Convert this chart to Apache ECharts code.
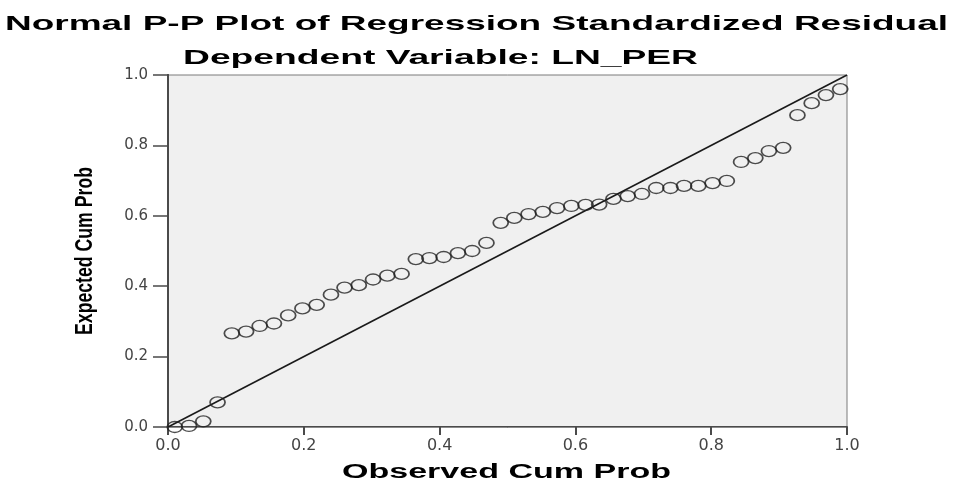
<!DOCTYPE html>
<html>
<head>
<meta charset="utf-8">
<script src="https://cdn.jsdelivr.net/npm/echarts@6/dist/echarts.min.js"></script>
<style>
html,body{margin:0;padding:0;background:#fff;}
#chart{width:953px;height:482px;}
</style>
</head>
<body>
<div id="chart"></div>
<script>
// ---- data ----
const titleLine1 = 'Normal P-P Plot of Regression Standardized Residual';
const titleLine2 = 'Dependent Variable: LN_PER';
const xAxisName = 'Observed Cum Prob';
const yAxisName = 'Expected Cum Prob';
const tickLabels = ['0.0', '0.2', '0.4', '0.6', '0.8', '1.0'];

const observedCumProb = [
  0.010, 0.031, 0.052, 0.073, 0.094, 0.115, 0.135, 0.156, 0.177, 0.198,
  0.219, 0.240, 0.260, 0.281, 0.302, 0.323, 0.344, 0.365, 0.385, 0.406,
  0.427, 0.448, 0.469, 0.490, 0.510, 0.531, 0.552, 0.573, 0.594, 0.615,
  0.635, 0.656, 0.677, 0.698, 0.719, 0.740, 0.760, 0.781, 0.802, 0.823,
  0.844, 0.865, 0.885, 0.906, 0.927, 0.948, 0.969, 0.990
];
const expectedCumProb = [
  0.000, 0.003, 0.016, 0.070, 0.266, 0.271, 0.287, 0.294, 0.317, 0.337,
  0.347, 0.376, 0.396, 0.403, 0.419, 0.430, 0.435, 0.477, 0.480, 0.483,
  0.494, 0.500, 0.523, 0.580, 0.594, 0.605, 0.611, 0.622, 0.628, 0.631,
  0.632, 0.648, 0.656, 0.662, 0.679, 0.679, 0.685, 0.685, 0.693, 0.699,
  0.753, 0.764, 0.784, 0.793, 0.886, 0.920, 0.943, 0.960
];
const referenceLineX = [0, 1];
const referenceLineY = [0, 1];

// ---- helpers ----
function textScale(text, font, targetWidth) {
  const ctx = document.createElement('canvas').getContext('2d');
  ctx.font = font;
  return targetWidth / ctx.measureText(text).width;
}

const points = observedCumProb.map((x, i) => [x, expectedCumProb[i]]);
const refLine = referenceLineX.map((x, i) => [x, referenceLineY[i]]);

const FAM = '"Liberation Sans", Arial, sans-serif';
const tFont = 'bold 21px ' + FAM;
const nFont = 'bold 20px ' + FAM;
const yFont = 'bold 24px ' + FAM;

const chart = echarts.init(document.getElementById('chart'), null, {renderer: 'canvas'});

const labelFmt = v => tickLabels[Math.round(v * 5)];

chart.setOption({
  animation: false,
  backgroundColor: '#ffffff',
  grid: {
    left: 168, top: 75, width: 679, height: 352,
    show: true, backgroundColor: '#F0F0F0',
    borderColor: '#7a7a7a', borderWidth: 1
  },
  xAxis: [{
    type: 'value', min: 0, max: 1, interval: 0.2,
    axisLine: {show: true, onZero: false, lineStyle: {color: '#4a4a4a', width: 2}},
    axisTick: {show: true, length: 8, lineStyle: {color: '#4a4a4a', width: 2}},
    axisLabel: {margin: 11, formatter: labelFmt, color: '#444',
      fontFamily: '"DejaVu Sans", sans-serif', fontSize: 16},
    splitLine: {show: false}
  }, {
    type: 'value', position: 'top', min: 0, max: 1,
    axisLine: {show: true, lineStyle: {color: '#8a8a8a', width: 1}},
    axisTick: {show: false}, axisLabel: {show: false}, splitLine: {show: false}
  }],
  yAxis: [{
    type: 'value', min: 0, max: 1, interval: 0.2,
    axisLine: {show: true, onZero: false, lineStyle: {color: '#4a4a4a', width: 2}},
    axisTick: {show: true, length: 15, lineStyle: {color: '#4a4a4a', width: 1.5}},
    axisLabel: {margin: 20, formatter: labelFmt, color: '#444',
      fontFamily: '"DejaVu Sans", sans-serif', fontSize: 15},
    splitLine: {show: false}
  }, {
    type: 'value', position: 'right', min: 0, max: 1,
    axisLine: {show: true, lineStyle: {color: '#4a4a4a', width: 2}},
    axisTick: {show: false}, axisLabel: {show: false}, splitLine: {show: false}
  }],
  series: [{
    type: 'line',
    data: refLine,
    symbol: 'none',
    lineStyle: {color: '#1a1a1a', width: 1.6},
    silent: true,
    z: 2
  }, {
    type: 'scatter',
    data: points,
    symbol: 'circle',
    symbolSize: [15, 11],
    itemStyle: {color: 'rgba(0,0,0,0)', borderColor: '#202020', borderWidth: 1.5},
    clip: false,
    z: 3
  }],
  graphic: [{
    type: 'text', x: 476.5, y: 24.5,
    scaleX: textScale(titleLine1, tFont, 943),
    style: {text: titleLine1, font: tFont, fill: '#000', align: 'center', verticalAlign: 'middle'}
  }, {
    type: 'text', x: 440.5, y: 58.5,
    scaleX: textScale(titleLine2, tFont, 515),
    style: {text: titleLine2, font: tFont, fill: '#000', align: 'center', verticalAlign: 'middle'}
  }, {
    type: 'text', x: 506.5, y: 472.5,
    scaleX: textScale(xAxisName, nFont, 329),
    style: {text: xAxisName, font: nFont, fill: '#000', align: 'center', verticalAlign: 'middle'}
  }, {
    type: 'text', x: 85, y: 251, rotation: Math.PI / 2,
    scaleX: textScale(yAxisName, yFont, 168),
    style: {text: yAxisName, font: yFont, fill: '#000', align: 'center', verticalAlign: 'middle'}
  }]
});
</script>
</body>
</html>
